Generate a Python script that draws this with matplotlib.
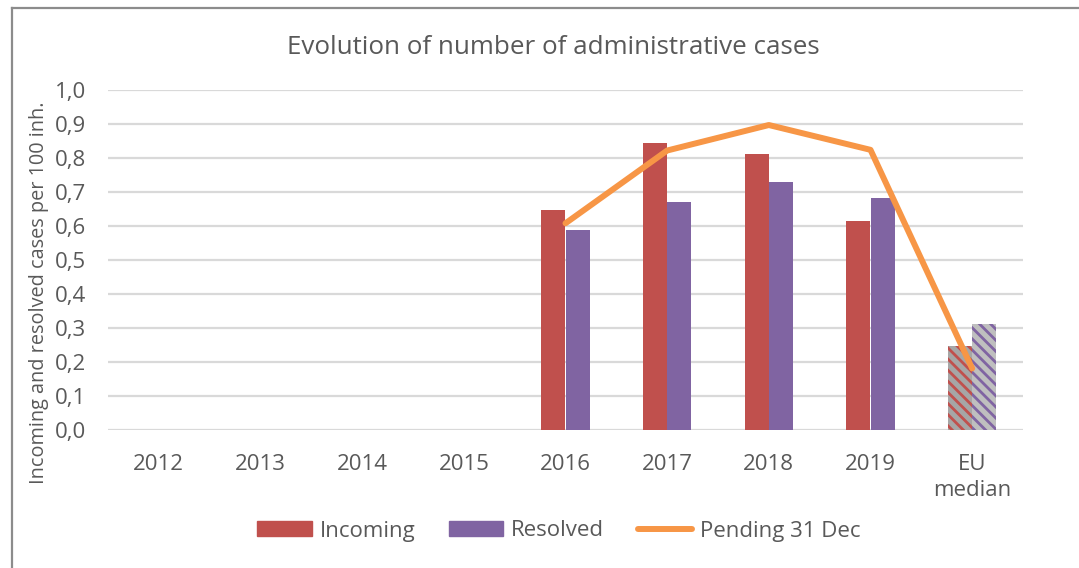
import matplotlib
matplotlib.use("Agg")
import matplotlib.pyplot as plt
import numpy as np
from matplotlib.patches import Patch
from matplotlib.lines import Line2D

categories = ["2012", "2013", "2014", "2015", "2016", "2017", "2018", "2019", "EU\nmedian"]
incoming = [np.nan, np.nan, np.nan, np.nan, 0.647, 0.845, 0.811, 0.616, 0.248]
resolved = [np.nan, np.nan, np.nan, np.nan, 0.588, 0.670, 0.728, 0.681, 0.311]
pending = [np.nan, np.nan, np.nan, np.nan, 0.608, 0.822, 0.897, 0.824, 0.181]
yticks = [0.0, 0.1, 0.2, 0.3, 0.4, 0.5, 0.6, 0.7, 0.8, 0.9, 1.0]

plt.rcParams['font.family'] = ['Open Sans', 'DejaVu Sans']
plt.rcParams['hatch.linewidth'] = 2.0
TXT = "#595959"
RED = "#c0504d"
PUR = "#8064a2"
ORA = "#f79646"

fig = plt.figure(figsize=(10.79, 5.68), dpi=100)
W, H = 1079, 568
ax = fig.add_axes([108 / W, 1 - 430 / H, (1023 - 108) / W, (430 - 90) / H])

x = np.arange(len(categories))
bw = 0.239
n_main = len(categories) - 1
ax.bar(x[:n_main] - bw / 2, incoming[:n_main], bw, color=RED, zorder=3)
ax.bar(x[:n_main] + bw / 2, resolved[:n_main], bw, color=PUR, zorder=3)
# EU median hatched
ax.bar(x[n_main] - bw / 2, incoming[n_main], bw, facecolor="#a6a6a6", edgecolor=RED,
       hatch="\\\\\\", linewidth=0, zorder=3)
ax.bar(x[n_main] + bw / 2, resolved[n_main], bw, facecolor="#bfbfbf", edgecolor=PUR,
       hatch="\\\\\\", linewidth=0, zorder=3)
ax.plot(x, pending, color=ORA, lw=4.3, solid_capstyle="round", solid_joinstyle="round", zorder=4)

ax.set_xlim(-0.5, len(categories) - 0.5)
ax.set_ylim(0, 1.0)
ax.set_yticks(yticks)
ax.set_yticklabels([f"{v:.1f}".replace(".", ",") for v in yticks])
ax.set_xticks(x)
ax.set_xticklabels(categories, linespacing=1.32)
ax.tick_params(axis="both", length=0, colors=TXT, labelsize=16)
ax.tick_params(axis="y", pad=16)
ax.tick_params(axis="x", pad=17)
ax.grid(axis="y", color="#d9d9d9", lw=1.6, zorder=0)
ax.set_axisbelow(True)
for s in ax.spines.values():
    s.set_visible(False)

ax.set_ylabel("Incoming and resolved cases per 100 inh.", color=TXT, fontsize=14.3, labelpad=4)
ax.yaxis.label.set_position((0, (1 - 293 / H - (1 - 430 / H)) / ((430 - 90) / H)))
fig.text(553 / W, 1 - 47 / H, "Evolution of number of administrative cases", ha="center",
         va="center", fontsize=18.7, color=TXT)

handles = [Patch(color=RED), Patch(color=PUR), Line2D([0], [0], color=ORA, lw=4.3, solid_capstyle="round")]
fig.legend(handles, ["Incoming", "Resolved", "Pending 31 Dec"], loc="center",
           bbox_to_anchor=(559 / W, 1 - 531 / H), ncol=3, frameon=False, fontsize=16,
           labelcolor=TXT, handlelength=2.45, handleheight=0.68, handletextpad=0.36,
           columnspacing=1.5)

# chart border (left and top visible)
fig.add_artist(Line2D([11.5 / W, 11.5 / W], [0, 1 - 7.5 / H], transform=fig.transFigure, color="#8c8c8c", lw=1.6))
fig.add_artist(Line2D([11.5 / W, 1], [1 - 7.5 / H, 1 - 7.5 / H], transform=fig.transFigure, color="#8c8c8c", lw=1.6))

fig.savefig("out.png", dpi=100)
